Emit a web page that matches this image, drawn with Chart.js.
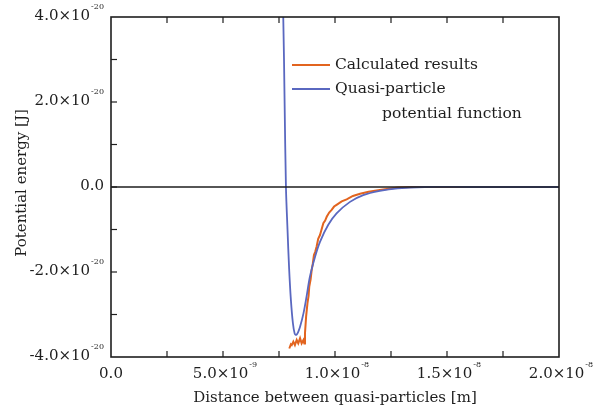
<!DOCTYPE html>
<html>
<head>
<meta charset="utf-8">
<script src="https://cdn.jsdelivr.net/npm/chart.js@4/dist/chart.umd.min.js"></script>
<style>
  html, body { margin: 0; padding: 0; background: #fff; }
  #wrap { width: 605px; height: 412px; }
</style>
</head>
<body>
<div id="wrap"><canvas id="chart" width="605" height="412"></canvas></div>
<script>
// x in units of 1e-9 m, y in units of 1e-20 J
const xTicks = [0, 5, 10, 15, 20];
const xTickLabels = [["0.0", ""], ["5.0\u00d710", "-9"], ["1.0\u00d710", "-8"], ["1.5\u00d710", "-8"], ["2.0\u00d710", "-8"]];
const yTicks = [4, 2, 0, -2, -4];
const yTickLabels = [["4.0\u00d710", "-20"], ["2.0\u00d710", "-20"], ["0.0", ""], ["-2.0\u00d710", "-20"], ["-4.0\u00d710", "-20"]];

// quasi-particle potential function (blue)
const blueX = [7.62, 7.69, 7.75, 7.81, 7.88, 7.95, 8.03, 8.12, 8.20, 8.27, 8.35, 8.44, 8.59, 8.73, 8.88, 9.11, 9.33, 9.70, 10.07, 10.67, 11.26, 12.0, 12.8, 14.0, 16.0, 20.0];
const blueY = [5.0, 4.0, 2.0, 0.0, -1.00, -1.90, -2.65, -3.20, -3.45, -3.48, -3.42, -3.29, -2.98, -2.58, -2.11, -1.64, -1.29, -0.89, -0.62, -0.35, -0.19, -0.09, -0.03, 0.0, 0.0, 0.0];

// calculated results (orange)
const orangeX = [7.96, 8.03, 8.07, 8.14, 8.21, 8.29, 8.36, 8.44, 8.51, 8.59, 8.63, 8.66, 8.71, 8.77, 8.82, 8.85, 8.91, 8.96, 9.01, 9.06, 9.12, 9.18, 9.25, 9.33, 9.40, 9.48, 9.56, 9.63, 9.74, 9.85, 9.96, 10.07, 10.30, 10.52, 10.80, 11.12, 11.50, 12.0, 12.4, 12.8, 13.5, 20.0];
const orangeY = [-3.80, -3.70, -3.72, -3.64, -3.72, -3.60, -3.68, -3.56, -3.68, -3.60, -3.68, -3.44, -3.05, -2.74, -2.56, -2.35, -2.18, -1.95, -1.80, -1.60, -1.52, -1.40, -1.22, -1.13, -1.00, -0.85, -0.79, -0.70, -0.60, -0.54, -0.46, -0.42, -0.34, -0.29, -0.21, -0.16, -0.11, -0.07, -0.04, -0.01, 0.0, 0.0];

const legendItems = [
  { color: "#e2641f", lines: ["Calculated results"] },
  { color: "#5a68c0", lines: ["Quasi-particle", "potential function"] }
];

const serif = "'DejaVu Serif', 'Liberation Serif', serif";
const ink = "#1e1e1e";

function labelWithSup(ctx, main, sup, x, y, align) {
  ctx.font = "15px " + serif;
  const wMain = ctx.measureText(main).width;
  ctx.font = "8px " + serif;
  const wSup = sup ? ctx.measureText(sup).width + 1 : 0;
  let start;
  if (align === "right") start = x - wMain - wSup;
  else start = x - (wMain + wSup) / 2;
  ctx.textAlign = "left";
  ctx.textBaseline = "middle";
  ctx.font = "15px " + serif;
  ctx.fillText(main, start, y);
  if (sup) {
    ctx.font = "8px " + serif;
    ctx.fillText(sup, start + wMain + 1, y - 9);
  }
}

const decorPlugin = {
  id: "decor",
  afterDatasetsDraw(chart) {
    const { ctx, chartArea: a, scales } = chart;
    const xs = scales.x, ys = scales.y;
    ctx.save();
    ctx.strokeStyle = ink;
    ctx.lineWidth = 1.6;
    // zero line
    const y0 = ys.getPixelForValue(0);
    ctx.beginPath();
    ctx.moveTo(a.left, y0);
    ctx.lineTo(a.right, y0);
    ctx.stroke();
    // frame
    ctx.strokeRect(a.left, a.top, a.right - a.left, a.bottom - a.top);
    // inward ticks
    ctx.lineWidth = 1.2;
    for (let v = 2.5; v < 20; v += 2.5) {
      const px = xs.getPixelForValue(v);
      ctx.beginPath();
      ctx.moveTo(px, a.bottom); ctx.lineTo(px, a.bottom - 6);
      ctx.moveTo(px, a.top); ctx.lineTo(px, a.top + 6);
      ctx.stroke();
    }
    for (let v = -3; v <= 3; v += 1) {
      const py = ys.getPixelForValue(v);
      ctx.beginPath();
      ctx.moveTo(a.left, py); ctx.lineTo(a.left + 6, py);
      ctx.stroke();
    }
    // tick labels
    ctx.fillStyle = ink;
    xTicks.forEach((v, i) => {
      labelWithSup(ctx, xTickLabels[i][0], xTickLabels[i][1], xs.getPixelForValue(v) + (i === 0 ? 0 : 2), a.bottom + 17, "center");
    });
    yTicks.forEach((v, i) => {
      labelWithSup(ctx, yTickLabels[i][0], yTickLabels[i][1], a.left - 7, ys.getPixelForValue(v) - 1, "right");
    });
    // axis titles
    ctx.font = "15px " + serif;
    ctx.textAlign = "center";
    ctx.textBaseline = "middle";
    ctx.fillText("Distance between quasi-particles [m]", (a.left + a.right) / 2, a.bottom + 41);
    ctx.save();
    ctx.translate(22, (a.top + a.bottom) / 2 - 4);
    ctx.rotate(-Math.PI / 2);
    ctx.fillText("Potential energy [J]", 0, 0);
    ctx.restore();
    // legend
    ctx.font = "15.5px " + serif;
    ctx.textAlign = "left";
    let ly = 65;
    legendItems.forEach(item => {
      ctx.strokeStyle = item.color;
      ctx.lineWidth = 2;
      ctx.beginPath();
      ctx.moveTo(292, ly); ctx.lineTo(330, ly);
      ctx.stroke();
      item.lines.forEach((t, j) => {
        ctx.fillText(t, j === 0 ? 335 : 382, ly + j * 25);
      });
      ly += 24;
    });
    ctx.restore();
  }
};

new Chart(document.getElementById("chart"), {
  type: "line",
  data: {
    datasets: [
      {
        label: "Quasi-particle potential function",
        data: blueX.map((x, i) => ({ x: x, y: blueY[i] })),
        borderColor: "#5a68c0",
        borderWidth: 1.8,
        pointRadius: 0,
        tension: 0.35,
        fill: false
      },
      {
        label: "Calculated results",
        data: orangeX.map((x, i) => ({ x: x, y: orangeY[i] })),
        borderColor: "#e2641f",
        borderWidth: 2,
        pointRadius: 0,
        tension: 0,
        fill: false
      }
    ]
  },
  options: {
    responsive: false,
    animation: false,
    layout: { padding: { left: 111, right: 46, top: 17, bottom: 55 } },
    plugins: { legend: { display: false }, tooltip: { enabled: false } },
    scales: {
      x: {
        type: "linear", min: 0, max: 20,
        ticks: { display: false },
        grid: { display: false, drawTicks: false },
        border: { display: false }
      },
      y: {
        type: "linear", min: -4, max: 4,
        ticks: { display: false },
        grid: { display: false, drawTicks: false },
        border: { display: false }
      }
    }
  },
  plugins: [decorPlugin]
});
</script>
</body>
</html>
